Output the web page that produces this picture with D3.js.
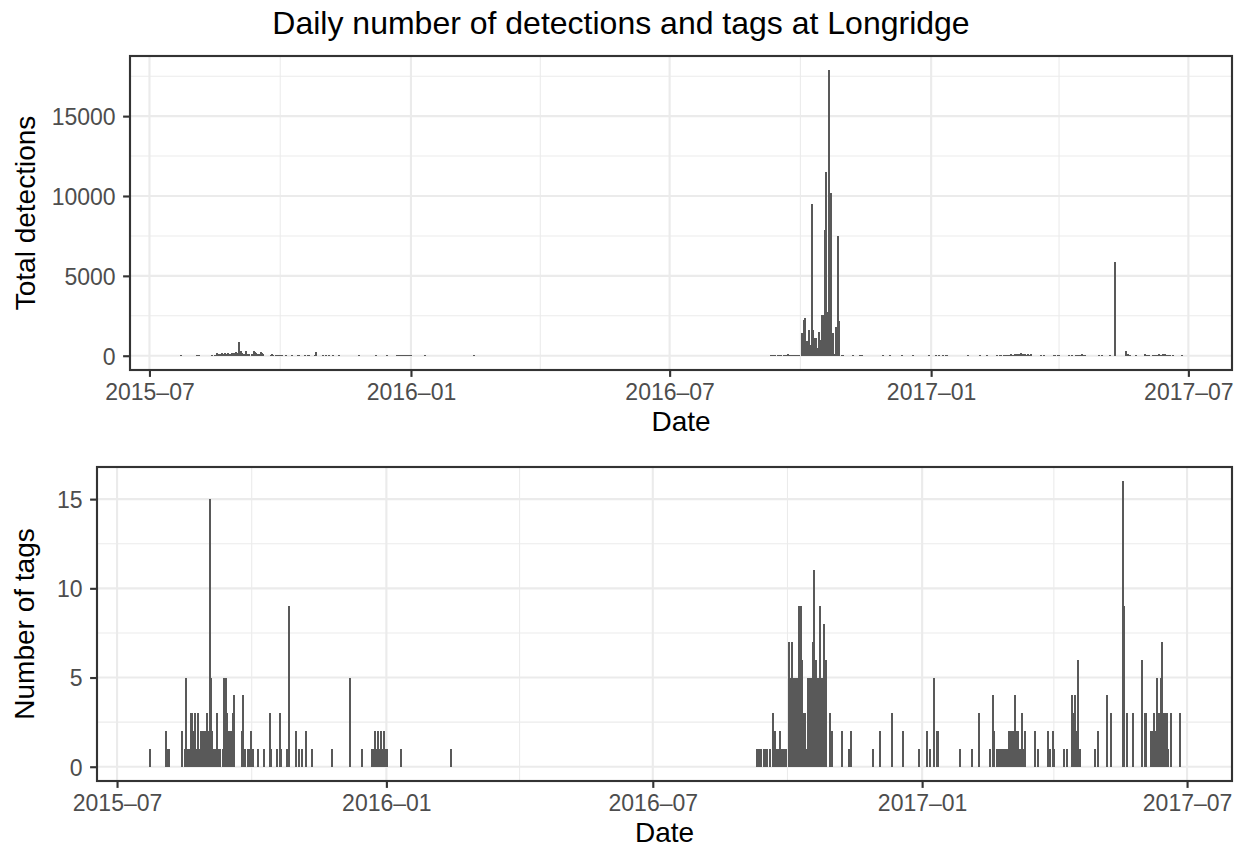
<!DOCTYPE html>
<html><head><meta charset="utf-8">
<script src="https://cdn.jsdelivr.net/npm/d3@7"></script>
<style>
body{margin:0;background:#fff}
svg{display:block}
text{font-family:"Liberation Sans",Arial,Helvetica,sans-serif}
</style>
</head><body>
<svg id="chart" width="1242" height="851"></svg>
<script>
// ---- data ----
const dates = [
 "2015-07-23","2015-08-03","2015-08-04","2015-08-05","2015-08-14","2015-08-16","2015-08-17","2015-08-18","2015-08-19","2015-08-20",
 "2015-08-21","2015-08-22","2015-08-23","2015-08-24","2015-08-25","2015-08-26","2015-08-27","2015-08-28","2015-08-29","2015-08-30",
 "2015-08-31","2015-09-01","2015-09-02","2015-09-03","2015-09-04","2015-09-05","2015-09-06","2015-09-07","2015-09-08","2015-09-09",
 "2015-09-11","2015-09-12","2015-09-13","2015-09-14","2015-09-15","2015-09-16","2015-09-17","2015-09-18","2015-09-19","2015-09-24",
 "2015-09-25","2015-09-26","2015-09-28","2015-09-29","2015-09-30","2015-10-01","2015-10-02","2015-10-05","2015-10-09","2015-10-13",
 "2015-10-14","2015-10-18","2015-10-20","2015-10-21","2015-10-25","2015-10-26","2015-10-31","2015-11-02","2015-11-04","2015-11-07",
 "2015-11-11","2015-11-25","2015-12-07","2015-12-15","2015-12-22","2015-12-23","2015-12-24","2015-12-25","2015-12-26","2015-12-27",
 "2015-12-28","2015-12-29","2015-12-30","2015-12-31","2016-01-01","2016-01-11","2016-02-14",
 "2016-09-10","2016-09-11","2016-09-12","2016-09-13","2016-09-15","2016-09-16","2016-09-17","2016-09-19","2016-09-21","2016-09-22",
 "2016-09-23","2016-09-24","2016-09-25","2016-09-26","2016-09-27","2016-09-28","2016-09-29","2016-09-30","2016-10-02","2016-10-03",
 "2016-10-04","2016-10-05","2016-10-06","2016-10-07","2016-10-08","2016-10-09","2016-10-10","2016-10-11","2016-10-12","2016-10-13",
 "2016-10-14","2016-10-15","2016-10-16","2016-10-17","2016-10-18","2016-10-19","2016-10-20","2016-10-21","2016-10-22","2016-10-23",
 "2016-10-24","2016-10-25","2016-10-26","2016-10-27","2016-10-28","2016-10-30","2016-10-31","2016-11-07","2016-11-12","2016-11-13",
 "2016-11-28","2016-12-03","2016-12-11","2016-12-19","2016-12-30","2017-01-04","2017-01-06","2017-01-09","2017-01-11","2017-01-12",
 "2017-01-27","2017-02-04","2017-02-09","2017-02-16","2017-02-18","2017-02-19","2017-02-21","2017-02-22","2017-02-23","2017-02-24",
 "2017-02-25","2017-02-26","2017-02-27","2017-02-28","2017-03-01","2017-03-02","2017-03-03","2017-03-04","2017-03-05","2017-03-06",
 "2017-03-07","2017-03-08","2017-03-09","2017-03-10","2017-03-11","2017-03-12","2017-03-19","2017-03-21","2017-03-28","2017-03-29",
 "2017-03-31","2017-04-01","2017-04-08","2017-04-10","2017-04-13","2017-04-14","2017-04-15","2017-04-16","2017-04-17","2017-04-18",
 "2017-04-19","2017-04-29","2017-05-01","2017-05-07","2017-05-10","2017-05-18","2017-05-19","2017-05-21","2017-05-25","2017-05-31",
 "2017-06-02","2017-06-03","2017-06-06","2017-06-07","2017-06-08","2017-06-09","2017-06-10","2017-06-11","2017-06-12","2017-06-13",
 "2017-06-14","2017-06-15","2017-06-16","2017-06-17","2017-06-18","2017-06-20","2017-06-26"
];
const tags = [
 1,2,1,1,2,1,5,1,1,3,
 3,2,3,1,3,1,2,2,2,2,
 3,2,15,5,2,1,1,3,1,1,
 1,5,5,3,2,1,2,3,4,2,
 4,1,1,1,2,1,1,1,1,3,
 1,1,3,1,1,9,2,1,1,2,
 1,1,5,1,1,1,2,1,2,1,
 2,1,2,1,1,1,1,
 1,1,1,1,1,1,1,1,3,2,
 1,1,1,2,1,1,1,1,7,5,
 7,5,5,5,3,9,9,6,3,3,
 1,5,5,5,7,11,6,5,5,9,
 5,5,8,6,0,3,2,2,1,2,
 1,2,3,2,1,2,1,5,2,2,
 1,1,3,1,4,2,1,1,1,1,
 1,1,1,1,2,2,2,2,4,2,
 2,1,1,3,1,2,2,1,2,1,
 2,1,1,1,4,3,4,2,6,1,
 1,1,2,4,3,16,9,3,3,6,
 3,3,2,2,3,2,5,3,3,5,
 7,3,3,3,1,3,3
];
const detections = [
 30,40,20,15,60,40,150,60,90,110,
 140,100,160,80,180,90,130,200,150,170,
 260,190,870,300,140,100,70,280,120,90,
 130,320,260,180,130,110,240,170,120,60,
 90,40,50,40,70,40,30,40,30,70,
 30,30,60,20,40,230,50,30,30,40,
 20,20,40,20,30,40,60,40,70,50,
 60,40,60,30,30,20,20,
 20,30,20,30,40,30,40,30,60,125,
 40,50,40,60,50,60,50,70,1400,2250,
 2350,900,900,1600,700,9500,1600,1100,1100,480,
 1500,1000,2550,2550,7900,11500,2750,17870,10170,1400,
 1400,100,1800,7500,2150,40,30,20,20,20,
 20,30,40,30,20,40,20,60,40,40,
 20,20,40,20,60,40,50,60,40,70,
 60,80,60,70,100,120,110,130,170,120,
 100,80,70,110,60,80,40,20,40,20,
 40,20,20,20,60,50,70,40,80,30,
 30,20,30,60,5850,310,125,60,60,80,
 60,60,50,60,70,60,80,70,60,80,
 90,70,60,60,40,50,20
];
const xMajorDates = ["2015-07-01","2016-01-01","2016-07-01","2017-01-01","2017-07-01"];
const xTickLabels = ["2015\u201307","2016\u201301","2016\u201307","2017\u201301","2017\u201307"];
const xMinorDates = ["2015-10-01","2016-04-01","2016-10-01","2017-04-01"];
const detMajor = [0,5000,10000,15000];
const detMinor = [2500,7500,12500,17500];
const tagMajor = [0,5,10,15];
const tagMinor = [2.5,7.5,12.5];

// ---- drawing ----
const svg = d3.select("#chart");
svg.append("rect").attr("width",1242).attr("height",851).attr("fill","#fff");
const parse = d3.utcParse("%Y-%m-%d");
const rows = dates.map((d,i)=>({date:parse(d), tags:tags[i], det:detections[i]}));
const DAY = 864e5;
const t0 = +d3.min(rows,r=>r.date) - 0.45*DAY, t1 = +d3.max(rows,r=>r.date) + 0.45*DAY;
const xpad = (t1-t0)*0.05;
const xDomain = [new Date(t0-xpad), new Date(t1+xpad)];

const GRID="#EBEBEB", INK="#333333", TICKTXT="#4D4D4D", BAR="#595959";

function panel(o){
  const x = d3.scaleUtc().domain(xDomain).range([o.left,o.right]);
  const vmax = d3.max(rows,o.val);
  const y = d3.scaleLinear().domain([-0.05*vmax, 1.05*vmax]).range([o.bottom,o.top]);
  const g = svg.append("g");
  // grid
  g.selectAll(".gxm").data(xMinorDates.map(parse)).join("line")
    .attr("x1",d=>x(d)).attr("x2",d=>x(d)).attr("y1",o.top).attr("y2",o.bottom)
    .attr("stroke",GRID).attr("stroke-width",1.07);
  g.selectAll(".gym").data(o.minor).join("line")
    .attr("y1",d=>y(d)).attr("y2",d=>y(d)).attr("x1",o.left).attr("x2",o.right)
    .attr("stroke",GRID).attr("stroke-width",1.07);
  g.selectAll(".gxM").data(xMajorDates.map(parse)).join("line")
    .attr("x1",d=>x(d)).attr("x2",d=>x(d)).attr("y1",o.top).attr("y2",o.bottom)
    .attr("stroke",GRID).attr("stroke-width",2.13);
  g.selectAll(".gyM").data(o.major).join("line")
    .attr("y1",d=>y(d)).attr("y2",d=>y(d)).attr("x1",o.left).attr("x2",o.right)
    .attr("stroke",GRID).attr("stroke-width",2.13);
  // bars (pixel-snapped so that neighbouring days merge like the reference)
  const bx0 = d=>Math.round(x(new Date(+d.date-0.5*DAY)));
  const bx1 = d=>Math.round(x(new Date(+d.date+0.5*DAY)));
  g.selectAll(".bar").data(rows.filter(r=>o.val(r)>0)).join("rect")
    .attr("x",bx0)
    .attr("width",d=>Math.max(2,bx1(d)-bx0(d)))
    .attr("y",d=>y(o.val(d))).attr("height",d=>y(0)-y(o.val(d)))
    .attr("fill",BAR).attr("shape-rendering","crispEdges");
  // border
  g.append("rect").attr("x",o.left).attr("y",o.top).attr("width",o.right-o.left).attr("height",o.bottom-o.top)
    .attr("fill","none").attr("stroke",INK).attr("stroke-width",2.13);
  // axes
  const ax = d3.axisBottom(x).tickValues(xMajorDates.map(parse))
    .tickFormat((d,i)=>xTickLabels[i]).tickSize(6.9).tickPadding(5);
  const gx = g.append("g").attr("transform",`translate(0,${o.bottom})`).call(ax);
  const ay = d3.axisLeft(y).tickValues(o.major).tickFormat(d=>String(d)).tickSize(6.9).tickPadding(7.5);
  const gy = g.append("g").attr("transform",`translate(${o.left},0)`).call(ay);
  [gx,gy].forEach(a=>{
    a.select(".domain").remove();
    a.selectAll(".tick line").attr("stroke",INK).attr("stroke-width",2.13);
    a.selectAll(".tick text").attr("fill",TICKTXT).style("font-size","23px")
      .style("font-family",'"Liberation Sans",Arial,sans-serif');
  });
  gx.selectAll(".tick text").attr("y",30).attr("dy",0);
  gy.selectAll(".tick text").attr("dy","0.36em");
  // axis titles
  svg.append("text").attr("x",(o.left+o.right)/2).attr("y",o.bottom+o.xtitleDy)
    .attr("text-anchor","middle").style("font-size","28px").attr("fill","#000").text("Date");
  svg.append("text").attr("transform",`translate(${o.ytitleX},${(o.top+o.bottom)/2}) rotate(-90)`)
    .attr("text-anchor","middle").style("font-size","28px").attr("fill","#000").text(o.ytitle);
}

panel({left:130,right:1232,top:56,bottom:370,val:r=>r.det,major:detMajor,minor:detMinor,
       ytitle:"Total detections",ytitleX:35,xtitleDy:61});
panel({left:97,right:1232,top:467,bottom:781,val:r=>r.tags,major:tagMajor,minor:tagMinor,
       ytitle:"Number of tags",ytitleX:34,xtitleDy:61});

svg.append("text").attr("x",621).attr("y",34).attr("text-anchor","middle")
  .style("font-size","32px").attr("fill","#000").text("Daily number of detections and tags at Longridge");
</script>
</body></html>
